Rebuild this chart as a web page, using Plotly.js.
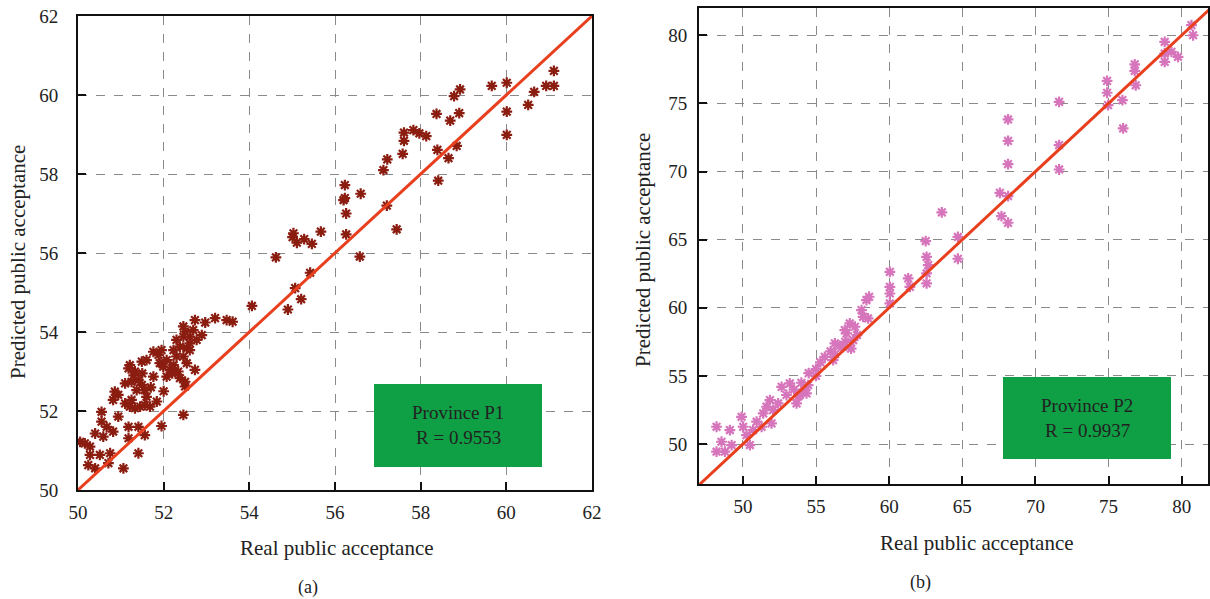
<!DOCTYPE html>
<html>
<head>
<meta charset="utf-8">
<script src="https://cdn.plot.ly/plotly-3.0.1.min.js"></script>
<style>html,body{margin:0;padding:0;background:#fff;}#chart{width:1210px;height:599px;}</style>
</head>
<body>
<div id="chart"></div>
<script>
// Province P1 (panel a): real vs predicted public acceptance
const p1Real = [50.05,50.16,50.28,50.40,50.55,50.55,50.59,50.82,50.67,50.28,50.51,50.75,50.24,50.40,50.71,51.06,51.41,51.18,51.18,51.41,51.56,51.95,52.46,50.94,50.82,50.94,50.86,51.10,51.21,51.25,51.33,51.45,51.56,51.68,51.84,51.60,51.37,51.49,51.41,51.25,51.18,51.21,51.33,51.60,51.49,51.76,51.56,51.88,51.91,51.99,52.07,52.15,52.07,52.23,52.34,52.50,52.50,52.38,52.30,52.46,52.54,52.73,52.23,52.38,52.54,52.61,52.30,52.46,52.61,52.77,52.89,52.69,52.50,52.46,52.73,52.97,53.20,53.47,53.61,52.61,51.76,51.95,51.30,51.70,52.00,52.20,51.10,51.50,
54.06,54.90,54.62,55.21,55.07,55.42,55.03,55.01,55.11,55.28,55.46,55.67,56.26,56.26,56.58,57.44,56.20,56.23,56.23,56.60,
57.21,57.13,57.22,57.58,57.61,57.61,57.83,57.97,58.13,58.37,58.41,58.39,58.65,58.69,58.84,58.90,58.78,58.92,59.66,60.01,60.01,60.01,60.51,60.65,60.93,61.11,61.11];
const p1Pred = [51.22,51.18,51.10,51.43,51.98,51.73,51.35,51.48,51.60,50.89,50.89,50.93,50.63,50.55,50.68,50.55,50.93,51.31,51.60,51.60,51.39,51.62,51.90,51.86,52.28,52.41,52.49,52.19,52.11,52.28,52.07,52.11,52.15,52.11,52.24,52.36,52.53,52.66,52.78,52.74,53.08,53.16,53.00,53.29,53.25,52.87,52.53,53.42,53.21,53.12,53.29,53.04,52.87,53.16,53.00,52.74,52.62,52.83,53.38,53.38,53.21,53.04,53.54,53.63,53.59,53.71,53.80,53.88,53.88,53.80,53.92,54.05,54.01,54.14,54.30,54.24,54.35,54.30,54.26,53.54,53.50,53.54,52.90,52.60,52.50,52.95,52.70,52.95,
54.66,54.57,55.89,54.83,55.11,55.50,56.50,56.40,56.26,56.35,56.23,56.54,57.00,56.47,55.91,56.60,57.34,57.72,57.39,57.50,
57.20,58.10,58.37,58.51,59.05,58.84,59.11,59.03,58.96,59.52,57.83,58.61,58.40,59.35,58.71,59.54,59.97,60.14,60.23,60.31,59.58,58.99,59.75,60.08,60.23,60.23,60.61];

// Province P2 (panel b)
const p2Real = [48.20,48.20,48.54,49.11,49.23,48.77,49.91,50.02,50.25,50.48,50.70,50.94,51.39,51.28,51.62,51.96,52.07,52.41,52.65,53.21,53.67,53.90,54.35,54.46,52.98,51.85,53.50,54.00,54.50,55.00,55.30,55.60,56.00,56.30,56.60,57.00,57.40,57.80,55.00,54.20,53.80,
56.17,56.29,56.86,57.09,57.31,57.54,56.97,57.66,58.11,58.45,58.63,58.22,58.56,60.05,60.05,60.05,60.05,61.30,61.42,62.56,62.56,62.56,62.67,62.50,64.70,64.70,
68.13,68.13,68.13,67.57,68.13,67.68,68.13,71.62,71.62,71.62,74.90,74.97,75.95,76.00,74.90,76.79,76.79,76.86,78.84,78.84,78.84,79.30,79.75,80.67,80.78,63.60];
const p2Pred = [51.27,49.44,50.17,51.03,49.93,49.44,52.00,51.27,50.66,49.93,51.03,51.64,52.25,51.27,52.74,51.52,52.49,52.98,54.20,54.45,52.98,53.60,53.72,54.33,53.60,53.23,54.00,54.50,55.20,55.50,56.00,56.40,56.80,56.60,57.20,57.50,57.00,58.00,55.00,54.00,53.50,
56.16,57.39,57.14,58.12,58.85,57.63,58.36,58.61,59.83,60.57,60.81,59.34,59.22,62.64,61.54,61.05,60.32,62.16,61.54,63.74,62.52,61.79,63.13,64.90,65.20,63.60,
73.82,72.25,70.54,68.44,68.20,66.73,66.24,75.11,71.94,70.15,75.78,74.87,75.24,73.16,76.65,77.87,77.38,76.33,79.52,78.66,78.05,78.78,78.42,80.74,80.00,67.00];

const p1Ideal = [50, 62];
const p2Ideal = [47, 82];
const p1Ticks = [50, 52, 54, 56, 58, 60, 62];
const p2Ticks = [50, 55, 60, 65, 70, 75, 80];

const serif = 'Liberation Serif, Times New Roman, serif';
const redLine = '#e8401e';
const textColor = '#222';

function markerOf(color) {
  return {symbol: 'asterisk-open', size: 9, color: color, line: {color: color, width: 2.2}};
}

const traces = [
  {x: p1Real, y: p1Pred, mode: 'markers', type: 'scatter', xaxis: 'x', yaxis: 'y',
   marker: markerOf('#8a1c10'), showlegend: false},
  {x: p1Ideal, y: p1Ideal, mode: 'lines', type: 'scatter', xaxis: 'x', yaxis: 'y',
   line: {color: redLine, width: 3}, showlegend: false},
  {x: p2Real, y: p2Pred, mode: 'markers', type: 'scatter', xaxis: 'x2', yaxis: 'y2',
   marker: markerOf('#d675bb'), showlegend: false},
  {x: p2Ideal, y: p2Ideal, mode: 'lines', type: 'scatter', xaxis: 'x2', yaxis: 'y2',
   line: {color: redLine, width: 3}, showlegend: false}
];

function axis(domain, range, ticks, anchor, standoff) {
  return {
    domain: domain, range: range, anchor: anchor,
    tickvals: ticks, ticktext: ticks.map(String),
    ticks: 'inside', ticklen: 8, tickwidth: 2, tickcolor: '#111',
    ticklabelstandoff: standoff,
    showline: true, linecolor: '#111', linewidth: 2, mirror: true,
    showgrid: true, gridcolor: '#8a8a8a', griddash: 'dash', gridwidth: 1,
    zeroline: false,
    tickfont: {family: serif, size: 19, color: textColor}
  };
}

const W = 1210, H = 599;
const px = v => v / W, py = v => 1 - v / H;

function label(text, x, y, size, extra) {
  return Object.assign({text: text, x: px(x), y: py(y), xref: 'paper', yref: 'paper',
    xanchor: 'center', yanchor: 'middle', showarrow: false,
    font: {family: serif, size: size, color: textColor}}, extra || {});
}

const layout = {
  width: W, height: H,
  margin: {l: 0, r: 0, t: 0, b: 0},
  paper_bgcolor: '#fff', plot_bgcolor: '#fff',
  showlegend: false,
  xaxis: axis([px(78), px(592)], [50, 62], p1Ticks, 'y', 4),
  yaxis: axis([py(490), py(16)], [50, 62], p1Ticks, 'x', 14),
  xaxis2: axis([px(699), px(1208)], [47, 81.8], p2Ticks, 'y2', 4),
  yaxis2: axis([py(484), py(8)], [47.07, 82], p2Ticks, 'x2', 6),
  shapes: [
    {type: 'rect', xref: 'paper', yref: 'paper', x0: px(374), x1: px(542), y0: py(467), y1: py(384),
     fillcolor: '#0f9f45', line: {width: 0}, layer: 'above'},
    {type: 'rect', xref: 'paper', yref: 'paper', x0: px(1003), x1: px(1171), y0: py(459), y1: py(377),
     fillcolor: '#0f9f45', line: {width: 0}, layer: 'above'}
  ],
  annotations: [
    label('Real public acceptance', 337, 548, 21),
    label('Real public acceptance', 977, 543, 21),
    label('Predicted public acceptance', 18, 262, 21, {textangle: -90}),
    label('Predicted public acceptance', 643, 250, 21, {textangle: -90}),
    label('(a)', 308, 587, 18),
    label('(b)', 920, 582, 18),
    label('Province P1', 458, 412, 19),
    label('R = 0.9553', 458, 437, 19),
    label('Province P2', 1087, 405, 19),
    label('R = 0.9937', 1087, 430, 19)
  ]
};

Plotly.newPlot('chart', traces, layout, {displayModeBar: false, staticPlot: true});
</script>
</body>
</html>
